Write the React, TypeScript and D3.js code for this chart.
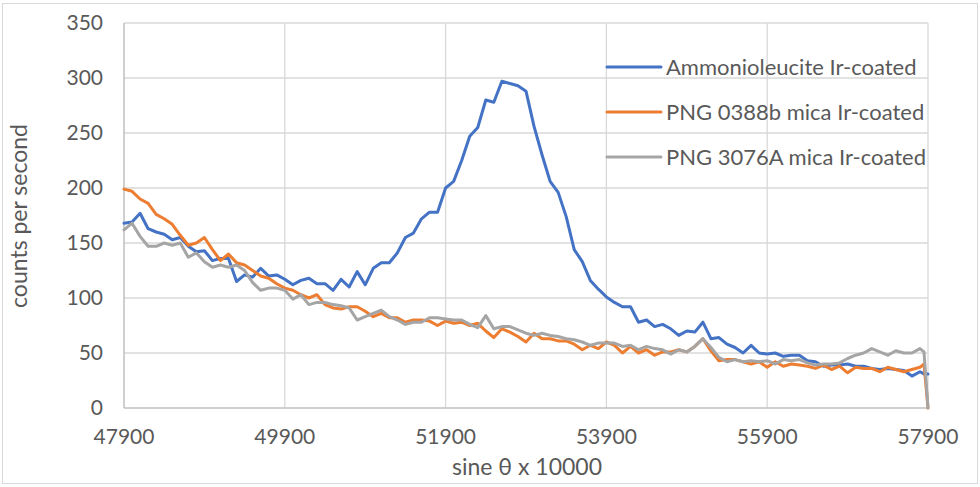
import React, { useRef, useEffect } from 'react';
import * as d3 from 'd3';

// sine theta x 10000, one reading every 100 units plus the end drop
const sineX = [...d3.range(47900, 57801, 100), 57850, 57900];

const ammonioleucite = [
  168, 169, 177, 163, 160, 158, 153, 155, 147, 142,
  143, 134, 136, 136, 115, 121, 119, 127, 120, 121,
  117, 112, 116, 118, 113, 113, 107, 117, 110, 124,
  112, 127, 132, 132, 141, 155, 159, 172, 178, 178,
  200, 206, 225, 247, 255, 280, 278, 297, 295, 293,
  288, 256, 230, 206, 196, 174, 144, 133, 116, 108,
  101, 96, 92, 92, 78, 80, 74, 76, 72, 66,
  70, 69, 78, 63, 64, 58, 55, 50, 57, 50,
  49, 50, 47, 48, 48, 43, 42, 38, 39, 39,
  40, 38, 38, 36, 35, 36, 35, 34, 29, 33,
  31, 31,
];

const png0388b = [
  199, 197, 190, 186, 176, 172, 167, 157, 148, 150,
  155, 144, 134, 140, 132, 130, 125, 120, 118, 113,
  109, 107, 103, 100, 103, 94, 91, 90, 92, 92,
  88, 83, 86, 82, 82, 78, 80, 80, 79, 75,
  79, 77, 78, 75, 77, 70, 64, 72, 69, 65,
  60, 68, 63, 63, 61, 61, 58, 53, 57, 54,
  60, 57, 50, 56, 50, 53, 48, 51, 51, 53,
  51, 56, 63, 52, 43, 44, 44, 42, 40, 42,
  37, 42, 38, 40, 39, 38, 36, 39, 35, 38,
  32, 37, 36, 36, 33, 37, 35, 33, 35, 37,
  40, 0,
];

const png3076A = [
  162, 168, 156, 147, 147, 150, 148, 150, 137, 141,
  133, 128, 130, 128, 130, 125, 114, 107, 109, 109,
  107, 99, 103, 94, 96, 96, 94, 93, 91, 80,
  83, 86, 89, 83, 80, 76, 78, 78, 82, 82,
  81, 80, 80, 76, 73, 84, 72, 74, 74, 71,
  68, 66, 68, 66, 65, 63, 62, 60, 57, 59,
  59, 59, 56, 57, 53, 56, 54, 53, 49, 53,
  51, 56, 63, 55, 46, 42, 44, 42, 43, 42,
  43, 40, 44, 43, 44, 41, 39, 40, 40, 41,
  45, 48, 50, 54, 51, 48, 52, 50, 50, 54,
  51, 0,
];

const seriesNames = ['Ammonioleucite Ir-coated', 'PNG 0388b mica Ir-coated', 'PNG 3076A mica Ir-coated'];
const seriesColors = ['#4472C4', '#ED7D31', '#A5A5A5'];
const xTicks = [47900, 49900, 51900, 53900, 55900, 57900];
const yTicks = [0, 50, 100, 150, 200, 250, 300, 350];

const WIDTH = 980;
const HEIGHT = 487;
const FONT = 'Lato, "Open Sans", sans-serif';

const App = () => {
  const ref = useRef<SVGSVGElement>(null);

  useEffect(() => {
    const svg = d3.select(ref.current);
    svg.selectAll('*').remove();

    const x = d3.scaleLinear().domain([47900, 57900]).range([124, 928]);
    const y = d3.scaleLinear().domain([0, 350]).range([408, 23]);

    svg.append('rect')
      .attr('width', WIDTH)
      .attr('height', HEIGHT)
      .attr('fill', '#fff');

    svg.append('rect')
      .attr('x', 2.5)
      .attr('y', 3.5)
      .attr('width', WIDTH - 5)
      .attr('height', HEIGHT - 7)
      .attr('fill', 'none')
      .attr('stroke', '#d9d9d9');

    // gridlines
    svg.append('g')
      .selectAll('line')
      .data(yTicks.slice(1))
      .join('line')
      .attr('x1', x(47900))
      .attr('x2', x(57900))
      .attr('y1', d => y(d))
      .attr('y2', d => y(d))
      .attr('stroke', '#d9d9d9')
      .attr('stroke-width', 1.3);

    svg.append('g')
      .selectAll('line')
      .data(xTicks.slice(1))
      .join('line')
      .attr('x1', d => x(d))
      .attr('x2', d => x(d))
      .attr('y1', y(0))
      .attr('y2', y(350))
      .attr('stroke', '#d9d9d9')
      .attr('stroke-width', 1.3);

    // axis lines
    svg.append('line')
      .attr('x1', x(47900)).attr('x2', x(47900))
      .attr('y1', y(0)).attr('y2', y(350))
      .attr('stroke', '#bfbfbf').attr('stroke-width', 1.5);
    svg.append('line')
      .attr('x1', x(47900)).attr('x2', x(57900))
      .attr('y1', y(0)).attr('y2', y(0))
      .attr('stroke', '#bfbfbf').attr('stroke-width', 1.5);

    // tick labels
    svg.append('g')
      .selectAll('text')
      .data(yTicks)
      .join('text')
      .attr('x', 103)
      .attr('y', d => y(d))
      .attr('dy', '0.35em')
      .attr('text-anchor', 'end')
      .attr('font-family', FONT)
      .attr('font-size', 21)
      .attr('fill', '#595959')
      .text(d => d);

    svg.append('g')
      .selectAll('text')
      .data(xTicks)
      .join('text')
      .attr('x', d => x(d))
      .attr('y', 437)
      .attr('dy', '0.35em')
      .attr('text-anchor', 'middle')
      .attr('font-family', FONT)
      .attr('font-size', 21)
      .attr('fill', '#595959')
      .text(d => d);

    // axis titles
    svg.append('text')
      .attr('x', 527)
      .attr('y', 467)
      .attr('dy', '0.35em')
      .attr('text-anchor', 'middle')
      .attr('font-family', FONT)
      .attr('font-size', 23)
      .attr('fill', '#595959')
      .text('sine θ x 10000');

    svg.append('text')
      .attr('transform', 'translate(19, 216) rotate(-90)')
      .attr('dy', '0.35em')
      .attr('text-anchor', 'middle')
      .attr('font-family', FONT)
      .attr('font-size', 23)
      .attr('fill', '#595959')
      .text('counts per second');

    // series
    const allSeries = [ammonioleucite, png0388b, png3076A];
    const line = d3.line<number>()
      .x((_, i) => x(sineX[i]))
      .y(d => y(d));

    allSeries.forEach((values, i) => {
      svg.append('path')
        .datum(values)
        .attr('d', line)
        .attr('fill', 'none')
        .attr('stroke', seriesColors[i])
        .attr('stroke-width', 3)
        .attr('stroke-linejoin', 'round')
        .attr('stroke-linecap', 'round');
    });

    // legend
    const legend = svg.append('g')
      .selectAll('g')
      .data(seriesNames)
      .join('g')
      .attr('transform', (_, i) => `translate(607, ${67 + i * 45})`);

    legend.append('line')
      .attr('x1', 0)
      .attr('x2', 54)
      .attr('stroke', (_, i) => seriesColors[i])
      .attr('stroke-width', 3)
      .attr('stroke-linecap', 'round');

    legend.append('text')
      .attr('x', 59)
      .attr('dy', '0.35em')
      .attr('font-family', FONT)
      .attr('font-size', 22)
      .attr('fill', '#595959')
      .text(d => d);
  }, []);

  return (
    <svg
      ref={ref}
      width={WIDTH}
      height={HEIGHT}
      style={{ position: 'absolute', left: 0, top: 0 }}
    ></svg>
  );
};

export default App;
